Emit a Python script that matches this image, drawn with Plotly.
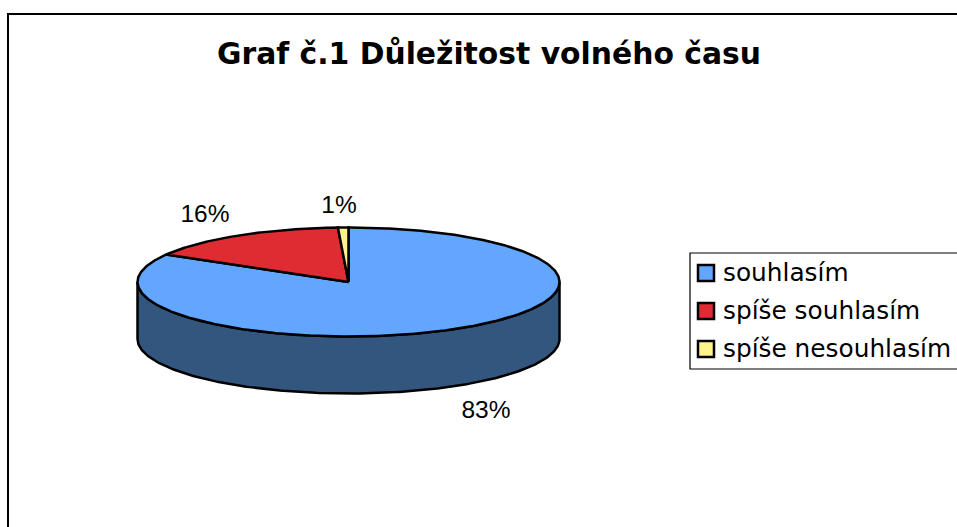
import numpy as np
import plotly.graph_objects as go

# values (labels round to 83 / 16 / 1)
categories = ["souhlasím", "spíše souhlasím", "spíše nesouhlasím"]
values = [83.4, 15.8, 0.8]
colors = ["#62A6FF", "#DF2C33", "#FFF38C"]
side_color = "#33567F"
title = "Graf č.1 Důležitost volného času"

# page geometry, in pixels of the 957x527 picture
W, H = 957, 527
CX, CY, RX, RY, DEPTH = 348.5, 282, 211, 54.5, 57
label_pos = [(486, 412), (205, 216), (339, 207)]
legend_y = [275, 313, 351]
OUTLINE = 2.5


def ellipse(a, depth=0):
    """Point on the pie rim, angle in degrees clockwise from 12 o'clock."""
    r = np.radians(a)
    return CX + RX * np.sin(r), CY - RY * np.cos(r) + depth


fig = go.Figure()

# front wall of the pie
a = np.linspace(90, 270, 181)
x1, y1 = ellipse(a)
x2, y2 = ellipse(a[::-1], DEPTH)
fig.add_trace(go.Scatter(
    x=np.r_[x1, x2, x1[0]], y=np.r_[y1, y2, y1[0]],
    mode="lines", fill="toself", fillcolor=side_color,
    line=dict(color="black", width=OUTLINE), hoverinfo="skip", showlegend=False))

# top slices
start = 0
for name, v, c in zip(categories, values, colors):
    stop = start + v / sum(values) * 360
    a = np.linspace(start, stop, max(int(stop - start) * 2, 8))
    x, y = ellipse(a)
    fig.add_trace(go.Scatter(
        x=np.r_[CX, x, CX], y=np.r_[CY, y, CY],
        mode="lines", fill="toself", fillcolor=c, name=name,
        line=dict(color="black", width=OUTLINE), showlegend=False))
    start = stop

# percent labels
fig.add_trace(go.Scatter(
    x=[p[0] for p in label_pos], y=[p[1] for p in label_pos],
    mode="text", text=[f"{round(v)}%" for v in values],
    textfont=dict(family="Liberation Sans", size=24.5, color="black"),
    hoverinfo="skip", showlegend=False))

# legend entries
fig.add_trace(go.Scatter(
    x=[706] * 3, y=[y - 2 for y in legend_y], mode="markers",
    marker=dict(symbol="square", size=16, color=colors,
                line=dict(color="black", width=2.5)),
    hoverinfo="skip", showlegend=False))
fig.add_trace(go.Scatter(
    x=[723] * 3, y=legend_y, mode="text", text=categories,
    textposition="middle right",
    textfont=dict(family="DejaVu Sans", size=24.8, color="black"),
    hoverinfo="skip", showlegend=False))

# chart frame and legend box
fig.add_shape(type="rect", x0=8, y0=14, x1=W + 20, y1=H + 20,
              line=dict(color="black", width=2), layer="below")
fig.add_shape(type="rect", x0=690, y0=253, x1=W + 20, y1=369,
              line=dict(color="black", width=1.2), layer="below")

fig.add_annotation(x=489, y=53, text=f"<b>{title}</b>", showarrow=False,
                   font=dict(family="DejaVu Sans", size=29.8, color="black"))

fig.update_layout(
    width=W, height=H, margin=dict(l=0, r=0, t=0, b=0),
    paper_bgcolor="white", plot_bgcolor="white", showlegend=False,
    xaxis=dict(range=[0, W], visible=False, fixedrange=True),
    yaxis=dict(range=[H, 0], visible=False, fixedrange=True))

fig.write_html("out.html", config=dict(displayModeBar=False),
               post_script="document.body.style.margin='0';")
